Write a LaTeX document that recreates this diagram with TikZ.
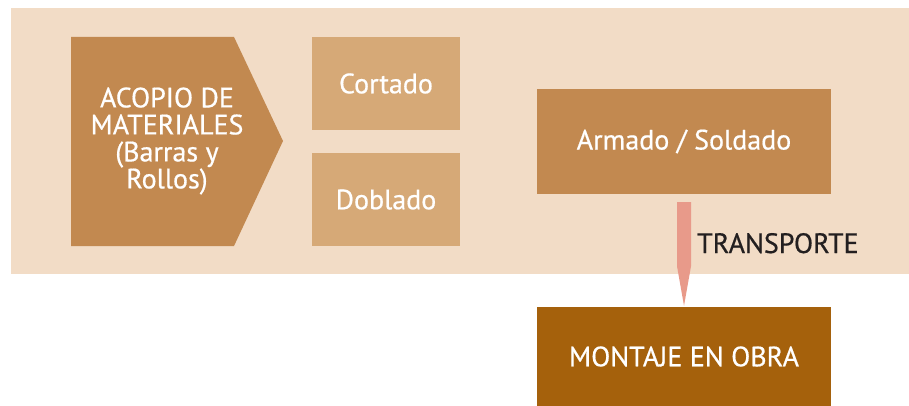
\documentclass[tikz,border=0pt]{standalone}
\usepackage{fontspec}
\setmainfont[FakeBold=0.6]{PT Sans}
\definecolor{panel}{HTML}{F2DCC6}
\definecolor{dark}{HTML}{C28950}
\definecolor{light}{HTML}{D6A977}
\definecolor{obra}{HTML}{A5610C}
\definecolor{arrowc}{HTML}{E89A8A}
\definecolor{txt}{HTML}{231F20}
\begin{document}
\begin{tikzpicture}[x=1pt,y=-1pt,
  box/.style={draw=none,inner sep=0pt,text=white,font=\fontsize{28}{27}\selectfont,align=center},
  lbl/.style={text=white,font=\fontsize{28}{27}\selectfont,align=center,inner sep=0pt}]
\useasboundingbox (0,0) rectangle (909,406);
\fill[panel] (11,8) rectangle (909,274);
% pentagon
\fill[dark] (71,37) -- (234,37) -- (283,141) -- (234,246) -- (71,246) -- cycle;
\node[lbl] (acopio) at (167,141) {ACOPIO DE\\MATERIALES\\(Barras y\\Rollos)};
\node[box,fill=light,minimum width=148pt,minimum height=93pt] (cortado) at (386,83.5) {Cortado};
\node[box,fill=light,minimum width=148pt,minimum height=93pt] (doblado) at (386,199.5) {Doblado};
\node[box,fill=dark,minimum width=294pt,minimum height=105pt] (armado) at (684,141.5) {Armado / Soldado};
\node[box,fill=obra,minimum width=294pt,minimum height=99pt] (obra) at (684,356.5) {MONTAJE EN OBRA};
\coordinate (s) at ([yshift=-8pt]armado.south);
\coordinate (t) at ([yshift=1pt]obra.north);
\fill[arrowc] ([xshift=-7pt]s) -- ([xshift=7pt]s) -- ([xshift=7pt,yshift=-64pt]s) -- (t) -- ([xshift=-7pt,yshift=-64pt]s) -- cycle;
\node[anchor=base west,inner sep=0pt,text=txt,font=\fontsize{28}{27}\selectfont] (trans) at (697,253) {TRANSPORTE};
\end{tikzpicture}
\end{document}
